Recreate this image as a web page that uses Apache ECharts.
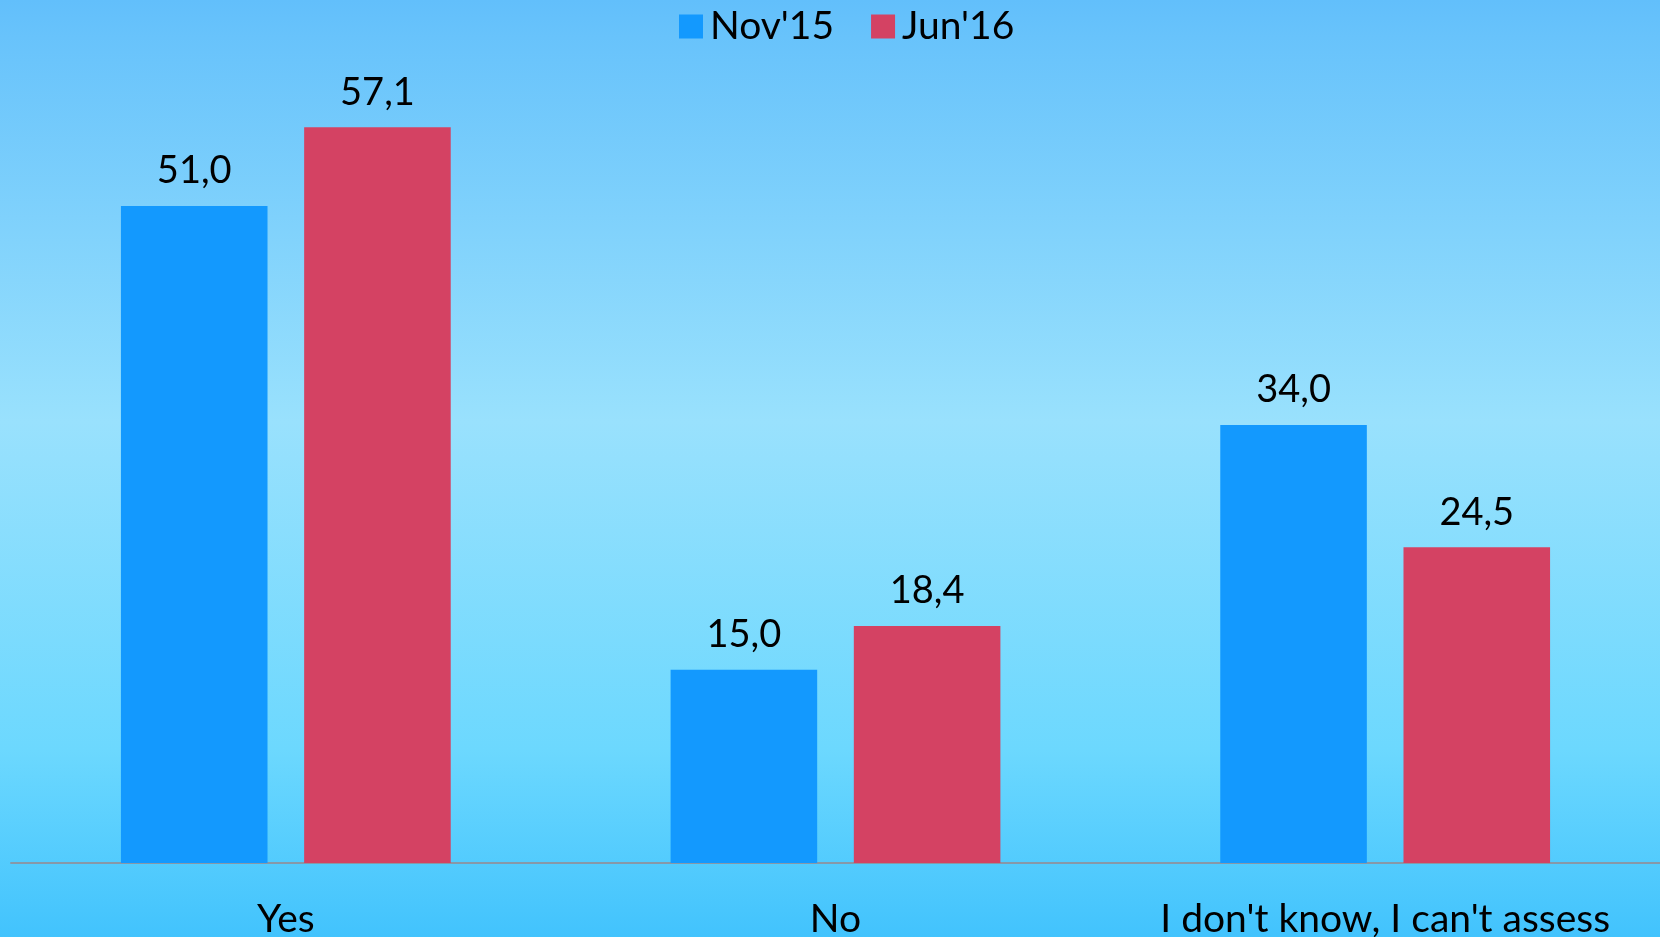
<!DOCTYPE html>
<html>
<head>
<meta charset="utf-8">
<script src="https://cdn.jsdelivr.net/npm/echarts@6/dist/echarts.min.js"></script>
<style>
  html, body { margin: 0; padding: 0; }
  #chart { width: 1660px; height: 937px; }
</style>
</head>
<body>
<div id="chart"></div>
<script>
// data
var categories = ['Yes', 'No', "I don't know, I can't assess"];
var nov15 = [51.0, 15.0, 34.0];
var jun16 = [57.1, 18.4, 24.5];

var labelFont = 'Lato';

function barLabel () {
  return {
    show: true,
    position: 'top',
    distance: 16,
    color: '#000',
    fontFamily: labelFont,
    fontSize: 38,
    formatter: function (p) { return p.value.toFixed(1).replace('.', ','); }
  };
}

var chart = echarts.init(document.getElementById('chart'));
chart.setOption({
  backgroundColor: {
    type: 'linear', x: 0, y: 0, x2: 0, y2: 1,
    colorStops: [
      { offset: 0, color: '#62bffb' },
      { offset: 0.04, color: '#68c3fb' },
      { offset: 0.45, color: '#99e1fd' },
      { offset: 0.8, color: '#6cd8fe' },
      { offset: 1, color: '#42c3fd' }
    ]
  },
  animation: false,
  legend: {
    top: 2,
    left: 674,
    itemWidth: 24,
    itemHeight: 24,
    itemGap: 37,
    icon: 'rect',
    textStyle: { fontFamily: labelFont, fontSize: 39, color: '#000', padding: [0, 0, 0, 2] },
    data: ["Nov'15", "Jun'16"]
  },
  grid: { left: 11, right: 0, top: 90, bottom: 74, outerBoundsMode: 'none', containLabel: false },
  xAxis: {
    type: 'category',
    data: categories,
    axisLine: { lineStyle: { color: '#8798a8', width: 2 } },
    axisTick: { show: false },
    axisLabel: { interval: 0, hideOverlap: false, color: '#000', fontFamily: labelFont, fontSize: 39, margin: 37 }
  },
  yAxis: {
    type: 'value',
    min: 0,
    max: 60,
    show: false,
    splitLine: { show: false }
  },
  series: [
    {
      name: "Nov'15",
      type: 'bar',
      data: nov15,
      barGap: '25%',
      barCategoryGap: '40%',
      itemStyle: { color: '#1399fe' },
      label: barLabel()
    },
    {
      name: "Jun'16",
      type: 'bar',
      data: jun16,
      itemStyle: { color: '#d44263' },
      label: barLabel()
    }
  ]
});
</script>
</body>
</html>
